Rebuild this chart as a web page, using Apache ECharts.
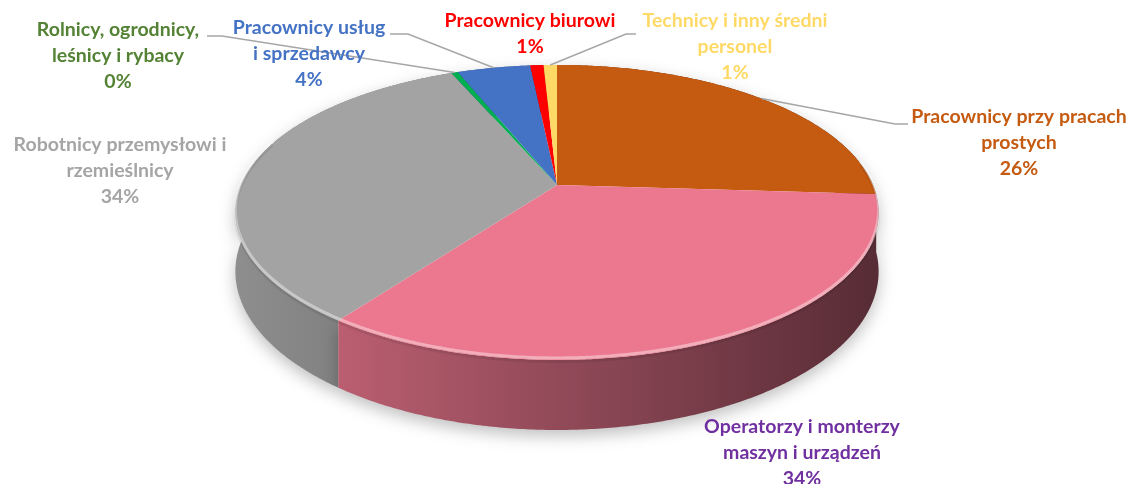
<!DOCTYPE html>
<html lang="pl">
<head>
    <meta charset="UTF-8">
    <title>Struktura zawodowa</title>
    <script src="https://cdn.jsdelivr.net/npm/echarts@6/dist/echarts.min.js"></script>
    <style>
        html, body { margin: 0; padding: 0; background: #fff; }
    </style>
</head>
<body>
<div id="main" style="width: 1130px;height:484px;"></div>
<script type="text/javascript">
    // dane - kolejnosc zgodnie z ruchem wskazowek zegara od godziny 12
    var categories = [
        'Pracownicy przy pracach\nprostych',
        'Operatorzy i monterzy\nmaszyn i urządzeń',
        'Robotnicy przemysłowi i\nrzemieślnicy',
        'Rolnicy, ogrodnicy,\nleśnicy i rybacy',
        'Pracownicy usług\ni sprzedawcy',
        'Pracownicy biurowi',
        'Technicy i inny średni\npersonel'
    ];
    var values = [26, 34, 33.6, 0.4, 4.4, 0.8, 0.8];
    var sliceColors = ['#C55A11', '#EC788F', '#A3A3A3', '#00B050', '#4472C4', '#FF0000', '#FFD966'];
    var labelColors = ['#C55A11', '#7030A0', '#A5A5A5', '#548235', '#4472C4', '#FF0000', '#FFD966'];

    // uklad etykiet: srodek tekstu, gora, linia odniesienia (start, kolanko)
    var labelLayout = [
        {x: 1019, y: 104, line: [[908, 124], [895, 124]]},
        {x: 802, y: 414},
        {x: 120, y: 132},
        {x: 118, y: 17, line: [[207, 36], [222, 36]]},
        {x: 309, y: 15, line: [[390, 34], [408, 34]]},
        {x: 530, y: 8},
        {x: 735, y: 8, line: [[636, 34], [626, 34]]}
    ];

    // geometria "3D" tortu
    var CX = 557, CY = 185, R = 316, RY = 142.4, K = 0.186, DEPTH = 57;

    var total = values.reduce(function (a, b) { return a + b; }, 0);
    var starts = [];
    var acc = 0;
    values.forEach(function (v) {
        starts.push(acc / total * Math.PI * 2);
        acc += v;
    });

    function proj(theta, drop) {
        var u = Math.sin(theta), v = -Math.cos(theta);
        var s = 1 / (1 - K * v);
        return [CX + R * u * s, CY + RY * v * s + (drop ? DEPTH * s : 0)];
    }

    function shade(hex, f) {
        var n = parseInt(hex.slice(1), 16);
        var r = Math.round(((n >> 16) & 255) * f);
        var g = Math.round(((n >> 8) & 255) * f);
        var b = Math.round((n & 255) * f);
        return 'rgb(' + r + ',' + g + ',' + b + ')';
    }

    function arc(a0, a1, drop) {
        var pts = [];
        var n = Math.max(2, Math.ceil((a1 - a0) / (Math.PI / 360)));
        for (var i = 0; i <= n; i++) {
            pts.push(proj(a0 + (a1 - a0) * i / n, drop));
        }
        return pts;
    }

    function renderItem(params, api) {
        var i = params.dataIndex;
        var a0 = starts[i];
        var a1 = a0 + values[i] / total * Math.PI * 2;
        var mid = (a0 + a1) / 2;
        var color = sliceColors[i];

        var topPts = [[CX, CY]].concat(arc(a0, a1, false));
        var wallPts = arc(a0, a1, false).concat(arc(a0, a1, true).reverse());

        var children = [
            {
                type: 'polygon',
                z2: 10 + Math.round(-Math.cos(mid) * 10),
                shape: {points: wallPts},
                style: {
                    fill: {
                        type: 'linear', x: 236, y: 0, x2: 878, y2: 0, global: true,
                        colorStops: [
                            {offset: 0, color: shade(color, 0.87)},
                            {offset: 1, color: shade(color, 0.37)}
                        ]
                    },
                    shadowBlur: 16,
                    shadowOffsetY: 6,
                    shadowColor: 'rgba(0,0,0,0.25)'
                }
            },
            {
                type: 'polygon',
                z2: 100,
                shape: {points: topPts},
                style: {fill: color}
            },
            {
                type: 'text',
                z2: 200,
                style: {
                    text: categories[i] + '\n' + Math.round(values[i] / total * 100) + '%',
                    x: labelLayout[i].x,
                    y: labelLayout[i].y,
                    align: 'center',
                    verticalAlign: 'top',
                    lineHeight: 26,
                    fill: labelColors[i],
                    font: 'bold 19.5px Lato'
                }
            }
        ];

        // jasna krawedz (faza) na obrzezu
        var fa = Math.max(a0, Math.PI * 0.45), fb = Math.min(a1, Math.PI * 1.6);
        if (fb > fa) {
            children.push({
                type: 'polyline',
                z2: 110,
                shape: {points: arc(fa, fb, false).map(function (p) { return [p[0], p[1] - 2]; })},
                style: {stroke: 'rgba(255,255,255,0.4)', lineWidth: 3, fill: null}
            });
            children.push({
                type: 'polyline',
                z2: 109,
                shape: {points: arc(fa, fb, false).map(function (p) { return [p[0], p[1] + 1.5]; })},
                style: {stroke: 'rgba(0,0,0,0.08)', lineWidth: 3, fill: null}
            });
        }

        if (labelLayout[i].line) {
            var pts = labelLayout[i].line.concat([proj(mid, false)]);
            children.push({
                type: 'polyline',
                z2: 150,
                shape: {points: pts},
                style: {stroke: '#A6A6A6', lineWidth: 1.5, fill: null}
            });
        }

        return {type: 'group', children: children};
    }

    var myChart = echarts.init(document.getElementById('main'));
    myChart.setOption({
        backgroundColor: '#fff',
        animation: false,
        series: [
            {
                type: 'custom',
                coordinateSystem: 'none',
                renderItem: renderItem,
                data: values.map(function (v, i) { return {name: categories[i], value: v}; })
            }
        ]
    });
</script>
</body>
</html>
